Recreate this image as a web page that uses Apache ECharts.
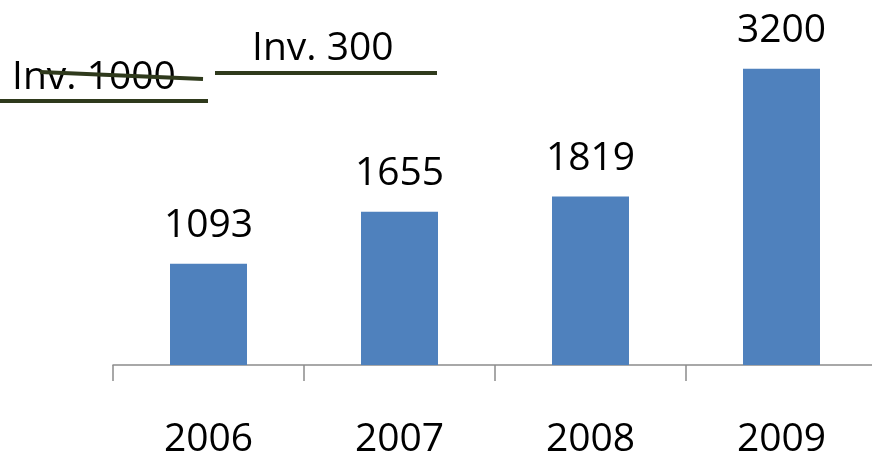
<!DOCTYPE html>
<html>
<head>
<meta charset="utf-8">
<script src="https://cdn.jsdelivr.net/npm/echarts@6/dist/echarts.min.js"></script>
<style>html,body{margin:0;padding:0;background:#fff}#chart{width:872px;height:457px}</style>
</head>
<body>
<div id="chart"></div>
<script>
const years = ['2006', '2007', '2008', '2009']
const values = [1093, 1655, 1819, 3200]
const notes = ['Inv. 1000', 'Inv. 300']

const chart = echarts.init(document.getElementById('chart'))
const font = '"Open Sans", "Liberation Sans", sans-serif'
const ink = '#2f3a1c'

chart.setOption({
  animation: false,
  grid: { left: 113, right: -5, top: 41, bottom: 92, outerBoundsMode: 'none', containLabel: false },
  xAxis: {
    type: 'category', data: years,
    axisLine: { lineStyle: { color: '#8c8c8c', width: 1.5 } },
    axisTick: { show: true, length: 16, lineStyle: { color: '#8c8c8c', width: 1.5 } },
    axisLabel: { color: '#000', fontSize: 39, fontFamily: font, margin: 55 }
  },
  yAxis: { type: 'value', min: 0, max: 3500, show: false, splitLine: { show: false } },
  series: [{
    type: 'bar', data: values, barWidth: 77,
    itemStyle: { color: '#4f81bd' },
    label: { show: true, position: 'top', distance: 18, color: '#000', fontSize: 39, fontFamily: font }
  }],
  graphic: [
    { type: 'text', left: 12, top: 58, style: { text: notes[0], font: '39px ' + font, fill: '#000' } },
    { type: 'text', left: 252, top: 29, style: { text: notes[1], font: '39px ' + font, fill: '#000' } },
    { type: 'line', shape: { x1: 40, y1: 72, x2: 203, y2: 79 }, style: { stroke: ink, lineWidth: 4 } },
    { type: 'line', shape: { x1: 0, y1: 101, x2: 208, y2: 101 }, style: { stroke: ink, lineWidth: 4 } },
    { type: 'line', shape: { x1: 215, y1: 73, x2: 437, y2: 73 }, style: { stroke: ink, lineWidth: 4 } }
  ]
})
</script>
</body>
</html>
